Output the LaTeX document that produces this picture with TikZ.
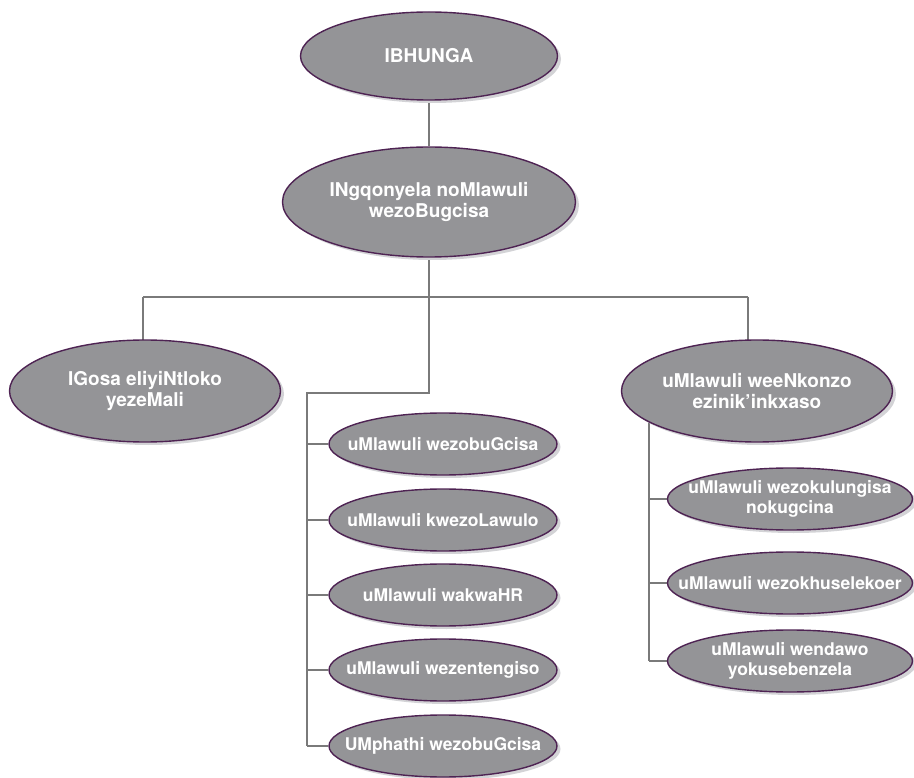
\documentclass[tikz,border=0pt]{standalone}
\usepackage{fontspec}
\setmainfont{TeX Gyre Heros}
\usetikzlibrary{shapes.geometric,shadows,backgrounds}
\definecolor{boxgray}{HTML}{949497}
\definecolor{rimpurple}{HTML}{4E2353}
\definecolor{shadegray}{HTML}{D3D3D6}
\definecolor{wiregray}{HTML}{7A7A7A}
\tikzset{
  post/.style={ellipse,fill=boxgray,draw=rimpurple,line width=1.4pt,inner sep=0pt,
    drop shadow={shadow xshift=3.5pt,shadow yshift=-3pt,fill=shadegray,opacity=1}},
  big/.style={post,label={[text=white,align=center,font=\bfseries\fontsize{19}{21.7}\selectfont]center:#1}},
  small/.style={post,minimum height=62pt,label={[text=white,align=center,font=\bfseries\fontsize{17.5}{20}\selectfont]center:#1}},
  wire/.style={draw=wiregray,line width=1.4pt}
}
\begin{document}
\begin{tikzpicture}[x=1pt,y=-1pt]
\useasboundingbox (0,0) rectangle (914,778);
\node[big=IBHUNGA,minimum width=257pt,minimum height=88pt] (board) at (429,56) {};
\node[big={INgqonyela noMlawuli\\wezoBugcisa},minimum width=293pt,minimum height=110pt] (ceo) at (429,202) {};
\node[big={IGosa eliyiNtloko\\yezeMali},minimum width=271pt,minimum height=102pt] (cfo) at (145,391) {};
\node[big={uMlawuli weeNkonzo\\ezinik’inkxaso},minimum width=271pt,minimum height=102pt] (support) at (757,391) {};
% middle column
\node[small=uMlawuli wezobuGcisa,minimum width=228pt] (art) at (443,444) {};
\node[small=uMlawuli kwezoLawulo,minimum width=228pt] (ctrl) at (443,520) {};
\node[small=uMlawuli wakwaHR,minimum width=228pt] (hr) at (443,595) {};
\node[small=uMlawuli wezentengiso,minimum width=228pt] (mkt) at (443,670) {};
\node[small=UMphathi wezobuGcisa,minimum width=228pt] (mgr) at (443,746) {};
% right column
\node[small={uMlawuli wezokulungisa\\nokugcina},minimum width=245pt] (cons) at (790,499) {};
\node[small=uMlawuli wezokhuselekoer,minimum width=245pt] (sec) at (790,583) {};
\node[small={uMlawuli wendawo\\yokusebenzela},minimum width=245pt] (fac) at (790,661) {};
\coordinate (barL) at (143,297);
\coordinate (barM) at (429,297);
\coordinate (barR) at (748,297);
\coordinate (midtop) at (307,393);
\coordinate (rtop) at (649,391);
\begin{scope}[on background layer]
\draw[wire] (board) -- (ceo);
\draw[wire] (ceo) -- (barM);
\draw[wire] (barL) -- (barR);
\draw[wire] (barL) -- (barL |- cfo);
\draw[wire] (barR) -- (barR |- support);
\draw[wire] (barM) |- (midtop) -- (midtop |- mgr);
\foreach \k in {art,ctrl,hr,mkt,mgr}
  \draw[wire] (midtop |- \k) -- (\k);
\draw[wire] (rtop) -- (rtop |- fac);
\foreach \k in {cons,sec,fac}
  \draw[wire] (rtop |- \k) -- (\k);
\end{scope}
\end{tikzpicture}
\end{document}
